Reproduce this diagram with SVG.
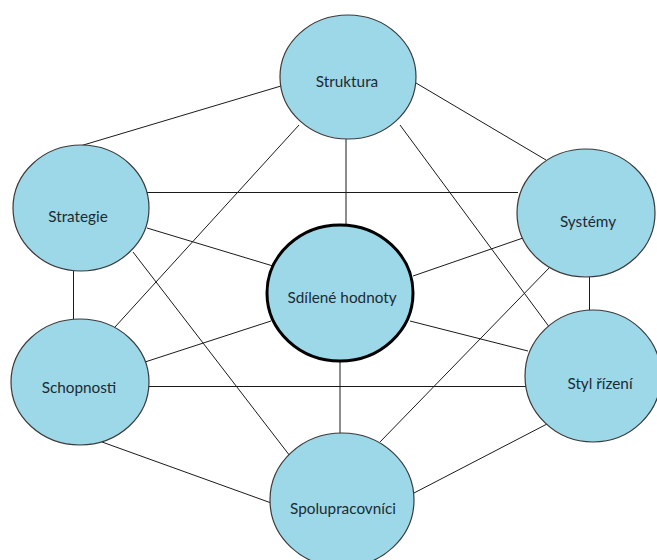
<svg xmlns="http://www.w3.org/2000/svg" width="657" height="560" viewBox="0 0 657 560">
  <style>
    .edge { stroke: #1a1a1a; stroke-width: 1; fill: none; }
    .node ellipse { fill: #9dd8e8; stroke: #3a3a3a; stroke-width: 1.2; }
    #sdilene-hodnoty ellipse { stroke: #000; stroke-width: 3; }
    .node text { font-family: Lato, "Open Sans", "Liberation Sans", sans-serif; font-size: 15.3px; fill: #1c2b33; text-anchor: middle; }
  </style>
  <rect width="657" height="560" fill="#fff"/>

  <!-- connectors, drawn beneath the nodes -->
  <g id="connectors">
    <line class="edge" x1="281" y1="86" x2="80" y2="146"/>
    <line class="edge" x1="416" y1="83" x2="546" y2="160"/>
    <line class="edge" x1="346" y1="139" x2="346" y2="226"/>
    <line class="edge" x1="299" y1="125" x2="115" y2="327"/>
    <line class="edge" x1="400" y1="125" x2="550" y2="328"/>
    <line class="edge" x1="147" y1="192.5" x2="518" y2="192.5"/>
    <line class="edge" x1="147" y1="228" x2="273" y2="266"/>
    <line class="edge" x1="73.5" y1="271" x2="73.5" y2="320"/>
    <line class="edge" x1="133" y1="252" x2="290" y2="456"/>
    <line class="edge" x1="523" y1="238" x2="413" y2="276"/>
    <line class="edge" x1="589.5" y1="276" x2="589.5" y2="311"/>
    <line class="edge" x1="550" y1="267" x2="380" y2="442"/>
    <line class="edge" x1="271" y1="321" x2="145" y2="362"/>
    <line class="edge" x1="410" y1="321" x2="528" y2="351"/>
    <line class="edge" x1="340" y1="362" x2="340" y2="434"/>
    <line class="edge" x1="148" y1="386.5" x2="526" y2="386.5"/>
    <line class="edge" x1="102" y1="442" x2="274" y2="504"/>
    <line class="edge" x1="547" y1="424" x2="414" y2="493"/>
  </g>

  <g id="struktura" class="node">
    <ellipse cx="348" cy="77" rx="68" ry="62"/>
    <text x="347" y="87">Struktura</text>
  </g>
  <g id="strategie" class="node">
    <ellipse cx="81" cy="208" rx="68" ry="63"/>
    <text x="78" y="222">Strategie</text>
  </g>
  <g id="systemy" class="node">
    <ellipse cx="586" cy="213" rx="69" ry="64"/>
    <text x="588" y="227">Systémy</text>
  </g>
  <g id="sdilene-hodnoty" class="node">
    <ellipse cx="340" cy="293" rx="73" ry="68"/>
    <text x="342" y="303">Sdílené hodnoty</text>
  </g>
  <g id="schopnosti" class="node">
    <ellipse cx="80" cy="382" rx="69" ry="63"/>
    <text x="79" y="393">Schopnosti</text>
  </g>
  <g id="styl-rizeni" class="node">
    <ellipse cx="593" cy="376" rx="68" ry="66"/>
    <text x="600" y="389">Styl řízení</text>
  </g>
  <g id="spolupracovnici" class="node">
    <ellipse cx="342" cy="500" rx="72" ry="67"/>
    <text x="343" y="514">Spolupracovníci</text>
  </g>
</svg>
